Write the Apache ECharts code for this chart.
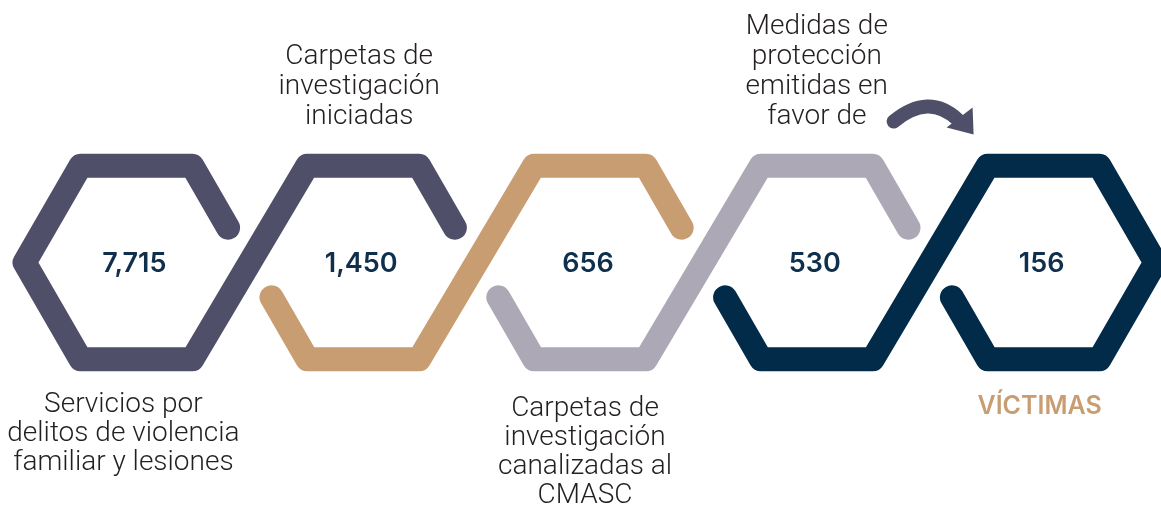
<!DOCTYPE html>
<html>
<head>
<meta charset="utf-8">
<script src="https://cdn.jsdelivr.net/npm/echarts@6/dist/echarts.min.js"></script>
<style>
  html, body { margin: 0; padding: 0; background: #ffffff; }
  #chart { width: 1161px; height: 506px; }
</style>
</head>
<body>
<div id="chart"></div>
<script>
// ---- data ----
const categories = ['Servicios', 'Iniciadas', 'CMASC', 'Medidas', 'Víctimas'];
const values = [7715, 1450, 656, 530, 156];
const labels = [
  'Servicios por\ndelitos de violencia\nfamiliar y lesiones',
  'Carpetas de\ninvestigación\niniciadas',
  'Carpetas de\ninvestigación\ncanalizadas al\nCMASC',
  'Medidas de\nprotección\nemitidas en\nfavor de',
  'VÍCTIMAS'
];

// ---- styling / layout (not data) ----
const palette = ['#4f4f69', '#c99d72', '#ada8b5', '#022b4a'];
const numberColor = '#0f2f4c';
const textColor = '#231f20';
const accent = '#c99d72';
const labelPos = ['bottom', 'top', 'bottom', 'top', 'bottom'];
const labelDx = [-13, -4, -5, 0, -4];
const labelTop = [128, 0, 132, 0, 131]; // distance from centre to top of bottom labels
const topLabelBottom = 131;             // distance from centre to bottom of top labels
const labelFont = 'Roboto';

const chart = echarts.init(document.getElementById('chart'), null, { renderer: 'canvas' });

function hexPts(cx, cy, R) {
  const h = R * Math.sqrt(3) / 2;
  return {
    V0: [cx + R, cy], V1: [cx + R / 2, cy - h], V2: [cx - R / 2, cy - h],
    V3: [cx - R, cy], V4: [cx - R / 2, cy + h], V5: [cx + R / 2, cy + h]
  };
}
function lerp(a, b, t) { return [a[0] + (b[0] - a[0]) * t, a[1] + (b[1] - a[1]) * t]; }

const STUB = 0.64;

function renderItem(params, api) {
  const i = api.value(0);
  const n = values.length;
  const c = api.coord([i, 0]);
  const band = api.size([1, 0])[0];
  const R = band * 0.493;
  const lw = band * 0.106;
  const H = hexPts(c[0], c[1], R);
  const children = [];

  if (i < n - 1) {
    const cn = api.coord([i + 1, 0]);
    const N = hexPts(cn[0], cn[1], R);
    let pts;
    if (i === 0) {
      pts = [lerp(H.V1, H.V0, STUB), H.V1, H.V2, H.V3, H.V4];
    } else {
      pts = [lerp(H.V4, H.V3, STUB), H.V4];
    }
    pts.push(H.V5, N.V2, N.V1);
    if (i === n - 2) {
      pts.push(N.V0, N.V5, N.V4, lerp(N.V4, N.V3, STUB));
    } else {
      pts.push(lerp(N.V1, N.V0, STUB));
    }
    children.push({
      type: 'polyline',
      shape: { points: pts },
      style: { stroke: palette[i], lineWidth: lw, fill: null, lineCap: 'round', lineJoin: 'round' },
      z2: 1
    });
  }

  // value text
  children.push({
    type: 'text',
    style: {
      text: api.value(1).toLocaleString('en-US'),
      x: c[0] - 2, y: c[1] + 1,
      align: 'center', verticalAlign: 'middle',
      fontFamily: 'Inter', fontWeight: 600, fontSize: 27,
      fill: numberColor
    },
    z2: 5
  });

  // descriptive label
  const isLast = i === n - 1;
  if (labelPos[i] === 'top') {
    children.push({
      type: 'text',
      style: {
        text: labels[i],
        x: c[0] + labelDx[i], y: c[1] - topLabelBottom,
        align: 'center', verticalAlign: 'bottom',
        fontFamily: labelFont, fontWeight: 300, fontSize: 28, lineHeight: 30,
        fill: textColor
      }
    });
  } else {
    children.push({
      type: 'text',
      style: {
        text: labels[i],
        x: c[0] + labelDx[i], y: c[1] + labelTop[i],
        align: 'center', verticalAlign: 'top',
        fontFamily: isLast ? 'Inter' : labelFont, fontWeight: isLast ? 600 : 300,
        fontSize: isLast ? 25 : 28, lineHeight: isLast ? 26 : 29,
        fill: isLast ? accent : textColor
      }
    });
  }

  // curved arrow pointing to the last hexagon
  if (isLast) {
    const ox = c[0], oy = c[1];
    children.push({
      type: 'bezierCurve',
      shape: { x1: ox - 150, y1: oy - 141, cpx1: ox - 115, cpy1: oy - 170, x2: ox - 86, y2: oy - 143 },
      style: { stroke: palette[0], lineWidth: 14, fill: null, lineCap: 'round' }
    });
    children.push({
      type: 'polygon',
      shape: { points: [[ox - 71, oy - 155], [ox - 70, oy - 128], [ox - 97, oy - 135]] },
      style: { fill: palette[0] }
    });
  }

  return { type: 'group', children: children };
}

chart.setOption({
  animation: false,
  backgroundColor: '#ffffff',
  grid: { left: 23, right: 4, top: 19, bottom: 0 },
  xAxis: { type: 'category', data: categories, boundaryGap: true, show: false },
  yAxis: { type: 'value', min: -1, max: 1, show: false },
  series: [{
    type: 'custom',
    renderItem: renderItem,
    data: values.map((v, i) => [i, v]),
    clip: false
  }]
});
</script>
</body>
</html>
